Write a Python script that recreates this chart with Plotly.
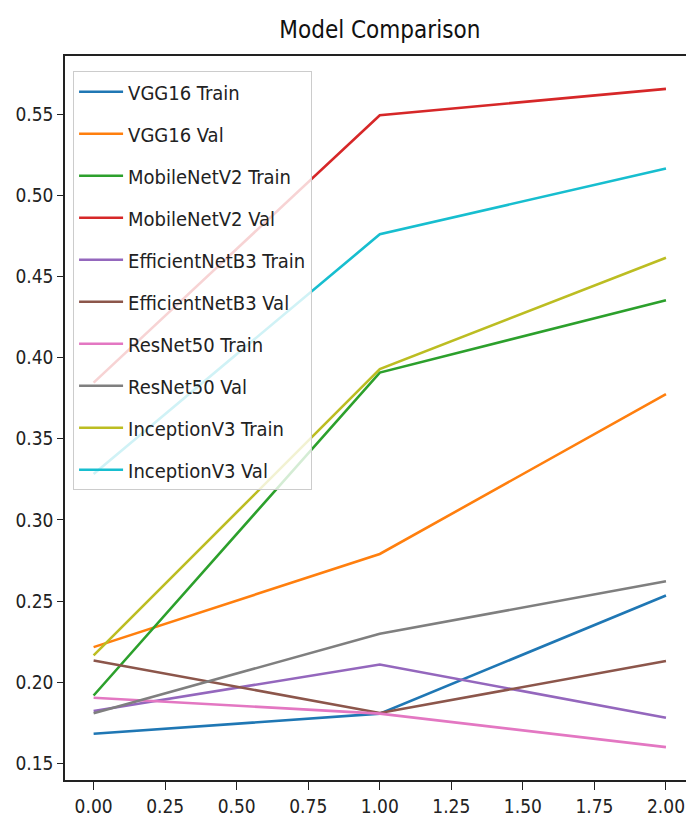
import plotly.graph_objects as go

epochs = [0, 1, 2]
series_names = [
    "VGG16 Train", "VGG16 Val",
    "MobileNetV2 Train", "MobileNetV2 Val",
    "EfficientNetB3 Train", "EfficientNetB3 Val",
    "ResNet50 Train", "ResNet50 Val",
    "InceptionV3 Train", "InceptionV3 Val",
]
vgg16_train = [0.1682, 0.1806, 0.2534]
vgg16_val = [0.2216, 0.2790, 0.3775]
mobilenet_train = [0.1918, 0.3908, 0.4354]
mobilenet_val = [0.3846, 0.5494, 0.5656]
effnet_train = [0.1822, 0.2109, 0.1781]
effnet_val = [0.2134, 0.1810, 0.2130]
resnet_train = [0.1904, 0.1806, 0.1600]
resnet_val = [0.1808, 0.2298, 0.2622]
inception_train = [0.2165, 0.3929, 0.4616]
inception_val = [0.3283, 0.4760, 0.5166]
all_values = [vgg16_train, vgg16_val, mobilenet_train, mobilenet_val,
              effnet_train, effnet_val, resnet_train, resnet_val,
              inception_train, inception_val]
colors = ["#1f77b4", "#ff7f0e", "#2ca02c", "#d62728", "#9467bd",
          "#8c564b", "#e377c2", "#7f7f7f", "#bcbd22", "#17becf"]
y_ticks = [0.15, 0.20, 0.25, 0.30, 0.35, 0.40, 0.45, 0.50, 0.55]
x_ticks = [0.0, 0.25, 0.5, 0.75, 1.0, 1.25, 1.5, 1.75, 2.0]

FONT = "DejaVu Sans Condensed, DejaVu Sans, sans-serif"

fig = go.Figure()
for i, (name, vals) in enumerate(zip(series_names, all_values)):
    fig.add_trace(go.Scatter(
        x=epochs, y=vals, mode="lines", name=name,
        line=dict(color=colors[i], width=2.6),
        legendgroup=f"g{i}",
    ))

lo = min(min(v) for v in all_values)
hi = max(max(v) for v in all_values)
pad = 0.05 * (hi - lo)

fig.update_layout(
    width=686, height=825,
    margin=dict(l=65, r=0, t=56, b=45),
    paper_bgcolor="white", plot_bgcolor="white",
    font=dict(family=FONT, size=19, color="#222222"),
    title=dict(text="Model Comparison", x=0.507, xref="paper", xanchor="center",
               y=0.964, yref="container", yanchor="middle",
               font=dict(family=FONT, size=24, color="#111111")),
    showlegend=True,
    legend=dict(
        x=0.013, y=0.979, xanchor="left", yanchor="top",
        bgcolor="rgba(255,255,255,0.8)", bordercolor="#cccccc", borderwidth=1,
        font=dict(family=FONT, size=20, color="#222222"),
        tracegroupgap=13, itemwidth=44,
    ),
    xaxis=dict(
        range=[-0.1, 2.07], tickvals=x_ticks,
        ticktext=[f"{t:.2f}" for t in x_ticks],
        showgrid=False, zeroline=False, automargin=False,
        showline=True, linecolor="#222222", linewidth=1.5, mirror=True,
        ticks="outside", ticklen=8, tickwidth=1.3, tickcolor="#222222",
        tickfont=dict(size=19),
    ),
    yaxis=dict(
        range=[lo - pad, hi + pad], tickvals=y_ticks,
        ticktext=[f"{t:.2f}" for t in y_ticks],
        showgrid=False, zeroline=False, automargin=False,
        showline=True, linecolor="#222222", linewidth=1.5,
        ticks="outside", ticklen=6, tickwidth=1.3, tickcolor="#222222",
        tickfont=dict(size=19),
    ),
)

fig.write_html("out.html", config={"displayModeBar": False},
               post_script="document.body.style.margin='0';")
